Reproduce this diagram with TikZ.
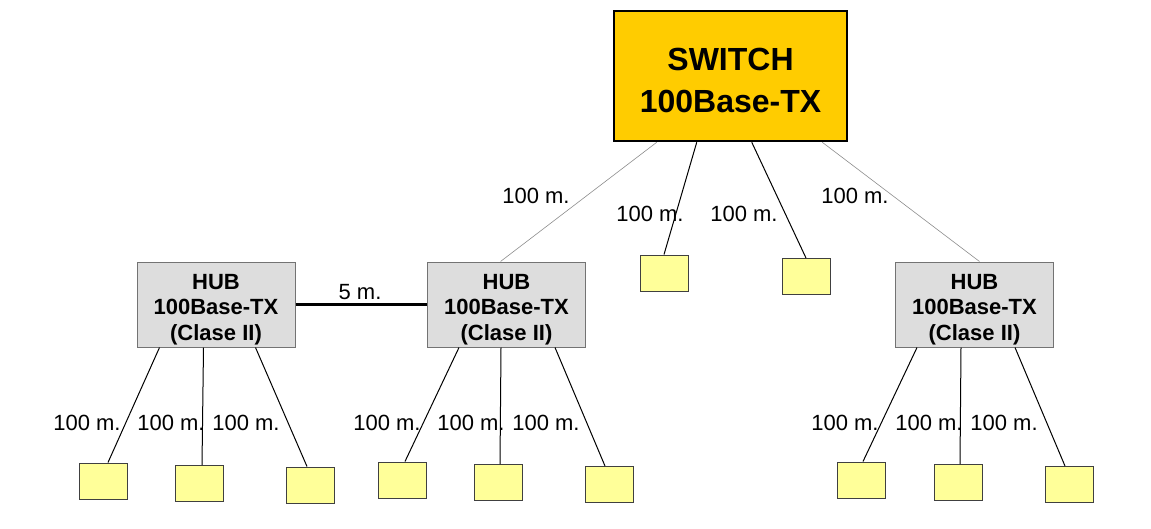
\documentclass[tikz,border=0pt]{standalone}
\usepackage{fontspec}
\setmainfont{Liberation Sans}
\usetikzlibrary{positioning,calc}
\definecolor{gold}{HTML}{FFCC00}
\definecolor{hubgray}{HTML}{DDDDDD}
\definecolor{pcyellow}{HTML}{FFFF99}
\definecolor{wire}{HTML}{8C8C8C}

\begin{document}
\begin{tikzpicture}[x=1pt,y=-1pt,
  switchbox/.style={draw=black,line width=2.5pt,fill=gold,minimum width=233pt,minimum height=130pt},
  switchtext/.style={align=center,inner sep=0pt,font=\fontsize{32}{42}\selectfont\bfseries},
  hubbox/.style={draw=black!55,line width=1pt,fill=hubgray,minimum width=158pt,minimum height=85pt},
  hubtext/.style={align=center,inner sep=0pt,font=\fontsize{22}{25.5}\selectfont\bfseries},
  pcbox/.style={draw=black!75,line width=1pt,fill=pcyellow,minimum width=48pt,minimum height=36pt,inner sep=0pt},
  lbl/.style={font=\fontsize{22}{24}\selectfont,inner sep=0pt},
  link/.style={black,line width=1pt},
  trunk/.style={wire,line width=0.6pt}]
  \useasboundingbox (0,0) rectangle (1151,528);

  % switch
  \node[switchbox] (sw) at (730.5,76) {};
  \node[switchtext] (swt) at ([yshift=-4pt]sw.center) {SWITCH\\100Base-TX};

  % hubs
  \foreach \h/\hx in {1/216,2/506.5,3/974.5} {
    \node[hubbox] (hub\h) at (\hx,304.5) {};
    \node[hubtext] (hubt\h) at ([yshift=-5pt]hub\h.center) {HUB\\100Base-TX\\(Clase II)};
  }
  \draw[black,line width=2.2pt] (hub1.east) -- (hub2.west);
  \node[lbl] (l5) at (360,292) {5 m.};

  % trunks switch -> hubs
  \draw[trunk] ([xshift=44pt]sw.south west) -- ([xshift=-6pt]hub2.north);
  \draw[trunk] ([xshift=-26pt]sw.south east) -- ([xshift=5pt]hub3.north);
  \node[lbl] (lt1) at (536,196) {100 m.};
  \node[lbl] (lt2) at (855,196) {100 m.};

  % stations on the switch
  \foreach \p/\px/\py/\sx/\lx in {1/664/273/84/650,2/806/276.5/139/744} {
    \node[pcbox] (pcs\p) at (\px,\py) {};
    \draw[link] ([xshift=\sx pt]sw.south west) -- (pcs\p.north);
    \node[lbl] (ls\p) at (\lx,214) {100 m.};
  }

  % stations on the hubs
  \foreach \h/\p/\px/\py/\sx/\ex/\lx in {
      1/1/103/481/23/5/87, 1/2/199/483.5/67/3/171, 1/3/310/485/119/-3/246,
      2/1/402/480/32/3/387, 2/2/498/482.5/74/2/471, 2/3/609/484.5/128/-4/546,
      3/1/861/480/22/2/845, 3/2/958/482.5/66/2/929, 3/3/1069/484.5/120/-4/1004} {
    \node[pcbox] (pc\h\p) at (\px,\py) {};
    \draw[link] ([xshift=\sx pt]hub\h.south west) -- ([xshift=\ex pt]pc\h\p.north);
    \node[lbl] (l\h\p) at (\lx,423) {100 m.};
  }
\end{tikzpicture}
\end{document}
